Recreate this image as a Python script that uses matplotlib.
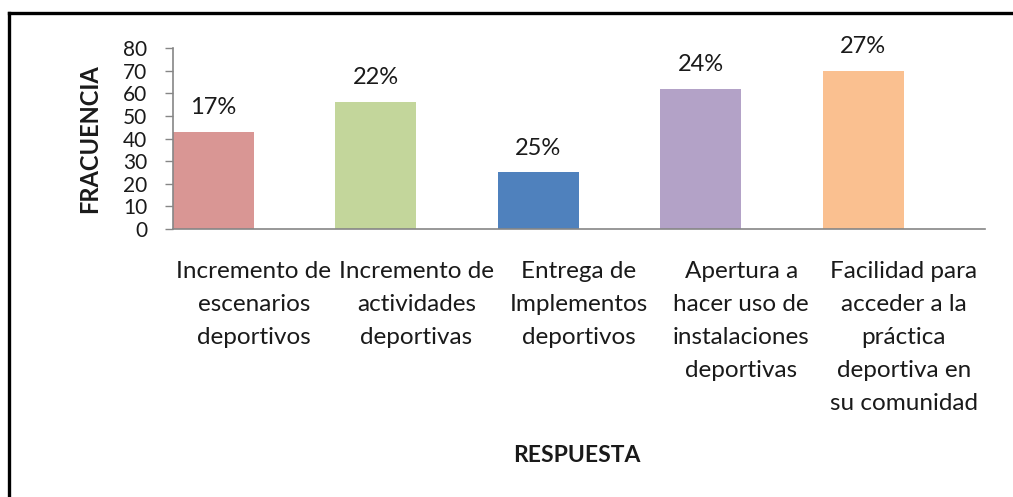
import matplotlib.pyplot as plt
from matplotlib.lines import Line2D

# data
categories = [
    "Incremento de\nescenarios\ndeportivos",
    "Incremento de\nactividades\ndeportivas",
    "Entrega de\nImplementos\ndeportivos",
    "Apertura a\nhacer uso de\ninstalaciones\ndeportivas",
    "Facilidad para\nacceder a la\npráctica\ndeportiva en\nsu comunidad",
]
frecuencia = [43, 56, 25, 62, 70]
porcentajes = ["17%", "22%", "25%", "24%", "27%"]
yticks = [0, 10, 20, 30, 40, 50, 60, 70, 80]

COLORS = ["#D99694", "#C3D69B", "#4F81BD", "#B3A2C7", "#FAC090"]
AXIS_GRAY = "#868686"
TEXT = "#1a1a1a"
BAR_W = 0.5

plt.rcParams.update({
    "font.family": ["Lato", "DejaVu Sans"],
    "font.size": 15,
})

fig = plt.figure(figsize=(10.13, 4.97), dpi=100)
ax = fig.add_axes([0.1703, 0.5392, 0.8021, 0.3642])

x = list(range(len(categories)))
# bars sit in the left half of each category slot (as in the source chart)
left = [xi - 0.5 for xi in x]
ax.bar(left, frecuencia, width=BAR_W, align="edge", color=COLORS, zorder=2)

for l, v, p in zip(left, frecuencia, porcentajes):
    ax.annotate(p, (l + BAR_W / 2, v), xytext=(0, 10), textcoords="offset points",
                ha="center", va="bottom", fontsize=17, color=TEXT)

ax.set_xlim(-0.5, len(categories) - 0.5)
ax.set_ylim(0, 80)
ax.set_yticks(yticks)
ax.set_yticklabels([str(t) for t in yticks], fontsize=15, color=TEXT)
ax.set_xticks(x)
ax.set_xticklabels(categories, fontsize=17.5, color=TEXT, linespacing=1.71,
                   va="top", ha="center")

ax.tick_params(axis="y", direction="out", length=6, width=1,
               color=AXIS_GRAY, pad=12)
ax.tick_params(axis="x", length=0, pad=23)

for side in ("top", "right"):
    ax.spines[side].set_visible(False)
for side in ("left", "bottom"):
    ax.spines[side].set_color(AXIS_GRAY)
    ax.spines[side].set_linewidth(1.2)

ax.set_ylabel("FRACUENCIA", fontsize=17, fontweight="bold", color=TEXT)
ax.yaxis.set_label_coords(-0.088, 0.5)
fig.text(0.5696, 0.084, "RESPUESTA", fontsize=16.5, fontweight="bold",
         color=TEXT, ha="center", va="center")

# outer frame (top and left only visible in the crop)
fig.add_artist(Line2D([0.0089, 1.0], [0.974, 0.974], transform=fig.transFigure,
                      color="black", linewidth=2.4))
fig.add_artist(Line2D([0.0089, 0.0089], [0.0, 0.974], transform=fig.transFigure,
                      color="black", linewidth=2.4))

fig.savefig("out.png", dpi=100, facecolor="white")
